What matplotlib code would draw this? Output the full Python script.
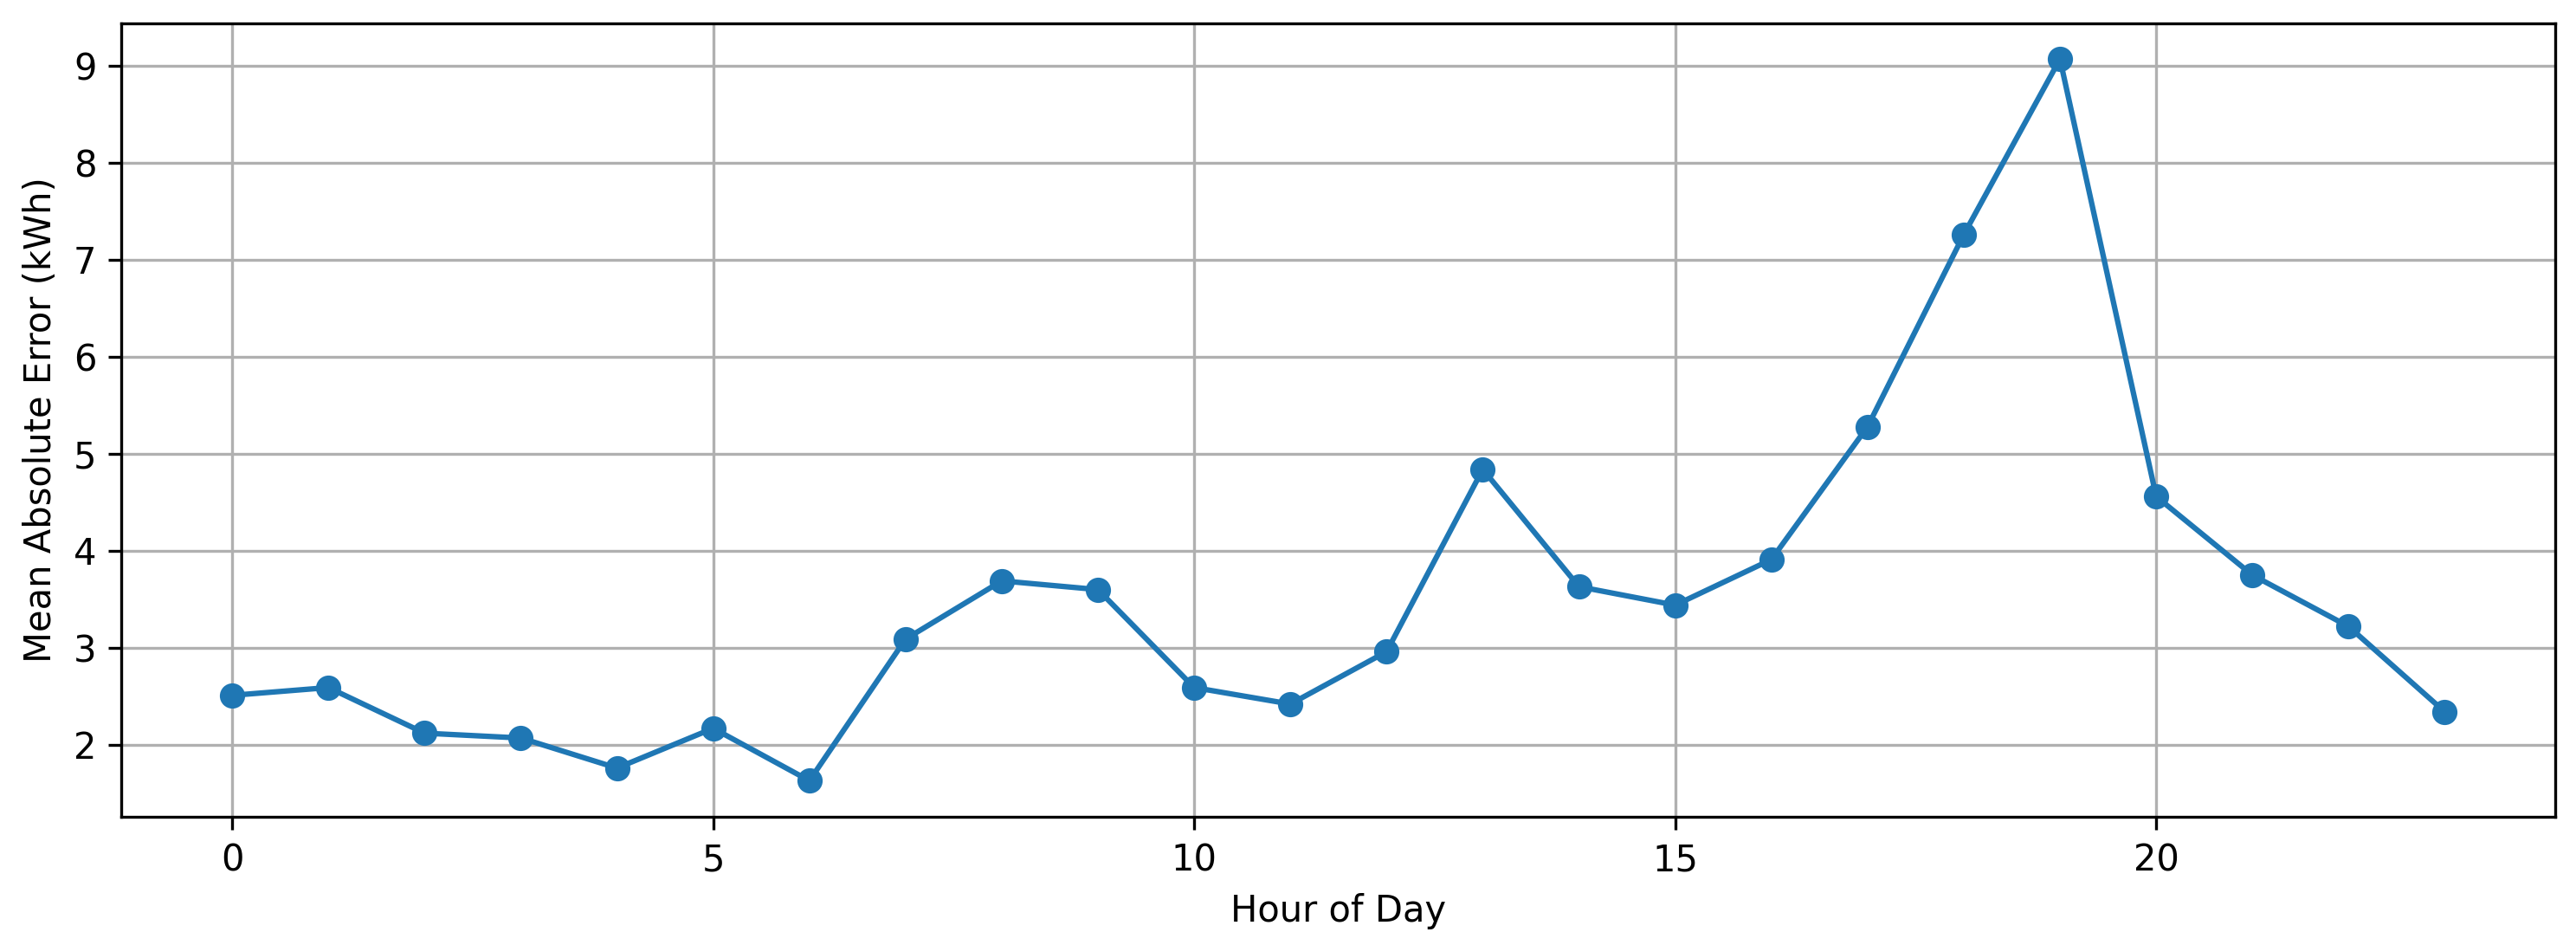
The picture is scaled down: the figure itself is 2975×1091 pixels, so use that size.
import matplotlib
matplotlib.use("Agg")
import matplotlib.pyplot as plt

hours = list(range(24))
mae = [2.51, 2.59, 2.12, 2.07, 1.76, 2.17, 1.63, 3.09, 3.69, 3.60,
       2.59, 2.42, 2.96, 4.84, 3.63, 3.44, 3.91, 5.28, 7.26, 9.07,
       4.56, 3.75, 3.22, 2.34]

fig = plt.figure(figsize=(2975 / 300, 1091 / 300), dpi=300)
ax = fig.add_axes([0.0472, 0.1357, 0.9448, 0.8400])
ax.plot(hours, mae, marker='o', color='#1f77b4')
ax.set_xlabel('Hour of Day')
ax.set_ylabel('Mean Absolute Error (kWh)')
ax.grid(True)
fig.savefig('out.png', dpi=300)
